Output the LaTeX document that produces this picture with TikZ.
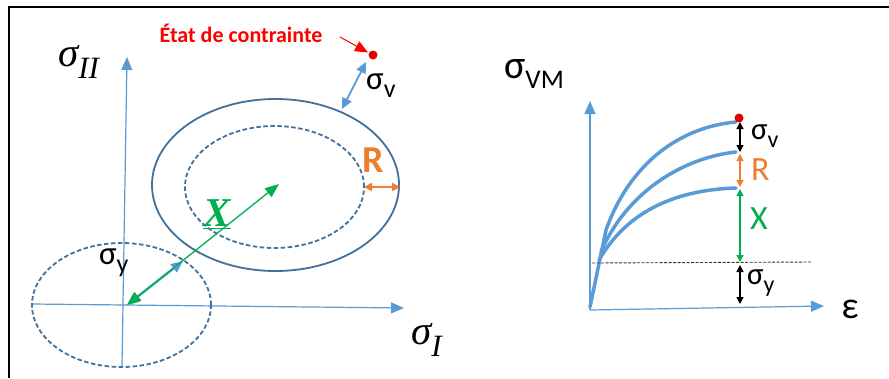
\documentclass[tikz,border=0pt]{standalone}
\usepackage{fontspec}
\setmainfont{Carlito}
\newfontfamily\serifit{Liberation Serif}
\usetikzlibrary{arrows.meta}
\definecolor{axblue}{HTML}{5B9BD5}
\definecolor{elblue}{HTML}{41719C}
\definecolor{mygreen}{HTML}{00B050}
\definecolor{myorange}{HTML}{ED7D31}
\definecolor{myred}{HTML}{FF0000}
\definecolor{dotred}{HTML}{E00000}
\tikzset{
  axis/.style={axblue, line width=1.2pt, -{Triangle[length=13pt,width=11pt]}},
  ell/.style={elblue, line width=1.8pt},
  dashell/.style={elblue, line width=1.8pt, dash pattern=on 4.5pt off 2.5pt},
  curve/.style={axblue, line width=3.5pt, line cap=round},
  dim/.style={line width=1.2pt, {Triangle[length=7pt,width=7pt]}-{Triangle[length=7pt,width=7pt]}},
  lbl/.style={inner sep=0pt, anchor=west},
}
\begin{document}
\begin{tikzpicture}[x=1pt,y=-1pt]
\useasboundingbox (0,0) rectangle (889,378);
\fill[white] (0,0) rectangle (889,378);
% frame
\draw[line width=2.5pt] (9,378) -- (9,7) -- (889,7);

% ---------- left panel ----------
\coordinate (vb) at (122,366);
\coordinate (vt) at (127,57);
\coordinate (hl) at (32,304);
\coordinate (hr) at (404,308);
\draw[axis] (vb) -- (vt);
\draw[axis] (hl) -- (hr);

\draw[dashell] (121.5,305) ellipse [x radius=89.5pt, y radius=62pt];
\draw[ell] (275.5,185) ellipse [x radius=123.5pt, y radius=86pt];
\draw[dashell] (274.5,187) ellipse [x radius=89.5pt, y radius=61pt];

\coordinate (O) at (127,305);
\coordinate (C) at (279,184);
\coordinate (P) at (183,261);
\draw[axblue, line width=2.4pt, {Triangle[length=12pt,width=10pt]}-{Triangle[length=12pt,width=10pt]}] (O) -- (P);
\draw[mygreen, line width=1.3pt, {Triangle[length=14pt,width=11pt]}-{Triangle[length=14pt,width=11pt]}] (O) -- (C);

\coordinate (Ri) at (364,187);
\coordinate (Ro) at (400,187);
\draw[myorange, line width=2pt, {Triangle[length=8pt,width=8pt]}-{Triangle[length=8pt,width=8pt]}] (Ri) -- (Ro);

\coordinate (S) at (373,55);
\coordinate (Sa) at (366,62);
\coordinate (Sb) at (342,109);
\draw[axblue, line width=1.8pt, {Triangle[length=11pt,width=10pt]}-{Triangle[length=11pt,width=10pt]}] (Sa) -- (Sb);
\coordinate (ra) at (340,37);
\draw[myred, line width=1pt, -{Triangle[length=13pt,width=11pt]}] (ra) -- (368,52.5);
\fill[dotred] (S) circle (4.5pt);

\node[myred, font=\bfseries\fontsize{22}{22}\selectfont, inner sep=0pt] (etat) at (241,33) {État de contrainte};
\node[lbl, font=\serifit\itshape\fontsize{41}{41}\selectfont] (sII) at (58,62) {σ\raisebox{-0.3em}{\fontsize{31}{31}\selectfont II}};
\node[lbl, font=\serifit\itshape\fontsize{41}{41}\selectfont] (sI) at (411,340) {σ\raisebox{-0.3em}{\fontsize{31}{31}\selectfont I}};
\node[lbl, font=\fontsize{33}{33}\selectfont] (sv1) at (366,86) {σ\raisebox{-0.25em}{\fontsize{26}{26}\selectfont v}};
\node[lbl, font=\fontsize{33}{33}\selectfont] (sy1) at (99,263) {σ\raisebox{-0.25em}{\fontsize{26}{26}\selectfont y}};
\node[lbl, myorange, font=\bfseries\fontsize{38}{38}\selectfont] (R1) at (362,160) {R};
\node[inner sep=0pt, mygreen, font=\serifit\bfseries\itshape\fontsize{41}{41}\selectfont] (X1) at (217,214) {\underline{X}};

% ---------- right panel ----------
\coordinate (o2) at (590,310);
\coordinate (vt2) at (590,101);
\coordinate (hr2) at (824,306);
\draw[axis] (o2) -- (vt2);
\draw[axis] (o2) -- (hr2);

\coordinate (e0) at (590,307);
\coordinate (ek) at (606,230);
\coordinate (t1) at (736,122);
\coordinate (m0) at (601,252);
\coordinate (t2) at (736,152);
\coordinate (b0) at (599,260);
\coordinate (t3) at (736,188);
\draw[curve] (e0) -- (ek) .. controls (630,163) and (680,127) .. (t1);
\draw[curve] (m0) .. controls (625,195) and (680,158) .. (t2);
\draw[curve] (b0) .. controls (625,215) and (670,190) .. (t3);

\coordinate (dl) at (592,263);
\coordinate (dr) at (812,262);
\draw[black!80, line width=0.9pt, dash pattern=on 3pt off 1.5pt] (dl) -- (dr);

\coordinate (a1) at (740,122);
\coordinate (a2) at (740,152);
\coordinate (a3) at (740,154);
\coordinate (a4) at (740,187);
\coordinate (a5) at (740,189);
\coordinate (a6) at (740,262);
\coordinate (a7) at (740,265);
\coordinate (a8) at (740,304);
\draw[dim, black] (a1) -- (a2);
\draw[dim, myorange] (a3) -- (a4);
\draw[dim, mygreen] (a5) -- (a6);
\draw[dim, black] (a7) -- (a8);
\fill[dotred] (739,118) circle (4.5pt);

\node[lbl, font=\fontsize{40}{40}\selectfont] (svm) at (504,74) {σ\raisebox{-0.25em}{\fontsize{27}{27}\selectfont VM}};
\node[inner sep=0pt, font=\fontsize{38}{38}\selectfont] (eps) at (850,309) {ε};
\node[lbl, font=\fontsize{31}{31}\selectfont] (sv2) at (751,136) {σ\raisebox{-0.25em}{\fontsize{24}{24}\selectfont v}};
\node[lbl, myorange, font=\fontsize{34}{34}\selectfont] (R2) at (751,170) {R};
\node[lbl, mygreen, font=\fontsize{34}{34}\selectfont] (X2) at (750,219) {X};
\node[lbl, font=\fontsize{31}{31}\selectfont] (sy2) at (747,283) {σ\raisebox{-0.25em}{\fontsize{24}{24}\selectfont y}};
\end{tikzpicture}
\end{document}
